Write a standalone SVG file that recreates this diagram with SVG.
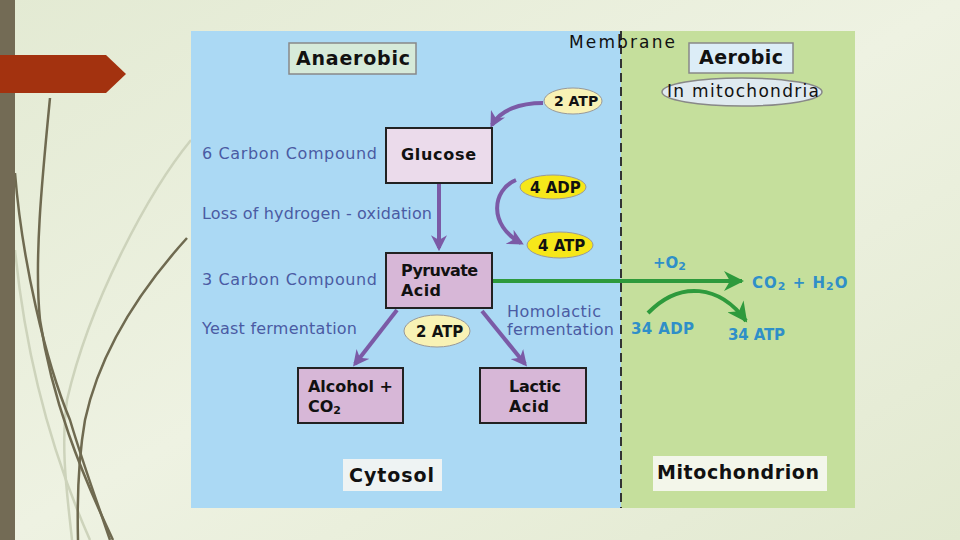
<svg xmlns="http://www.w3.org/2000/svg" width="960" height="540" viewBox="0 0 960 540">
<defs>
<linearGradient id="bg" x1="0" y1="0" x2="1" y2="1">
<stop offset="0" stop-color="#e3ead3"/><stop offset="0.5" stop-color="#eef2e2"/><stop offset="1" stop-color="#e2e9d0"/>
</linearGradient>
<marker id="pa" viewBox="0 0 10 10" refX="8" refY="5" markerWidth="4" markerHeight="4" orient="auto"><path d="M0,0 L10,5 L0,10 L3,5 z" fill="#7b5aa6"/></marker>
<marker id="ga" viewBox="0 0 10 10" refX="9" refY="5" markerWidth="7" markerHeight="5" orient="auto"><path d="M0,0 L10,5 L0,10 L3,5 z" fill="#2e9a3c"/></marker>
<style>
.bl{font-family:"DejaVu Sans",sans-serif;font-weight:bold;fill:#111;}
.lb{font-family:"DejaVu Sans",sans-serif;fill:#4a5ba3;font-size:16px;}
.cy{font-family:"DejaVu Sans",sans-serif;font-weight:bold;fill:#2f8fc8;font-size:15px;}
.box{stroke:#222;stroke-width:2;}
.pu{fill:none;stroke:#7b5aa6;stroke-width:4;marker-end:url(#pa);}
.deco{fill:none;stroke:#6f6a50;stroke-width:2.5;}
.decol{fill:none;stroke:#cdd3bb;stroke-width:2.5;}
</style>
</defs>
<rect width="960" height="540" fill="url(#bg)"/>
<g id="decoration">
<path class="decol" d="M191,140 C150,190 90,300 67,400 C60,450 68,500 72,540"/>
<path class="decol" d="M15,250 C25,350 50,450 90,540"/>
<path class="deco" d="M50,98 C42,180 34,260 40,320 C52,400 80,470 113,540"/>
<path class="deco" d="M15,173 C22,260 45,360 70,420 C85,470 100,510 110,540"/>
<path class="deco" d="M187,238 C140,290 100,350 85,420 C78,460 77,500 78,540"/>
<rect x="0" y="0" width="15" height="540" fill="#736b55"/>
<path d="M0,55 L106,55 L126,74 L106,93 L0,93 z" fill="#a3320f"/>
</g>
<g id="panels">
<rect x="191" y="31" width="430" height="477" fill="#abd9f4"/>
<rect x="621" y="31" width="234" height="477" fill="#c5df9c"/>
<line x1="621" y1="31" x2="621" y2="508" stroke="#333" stroke-width="2" stroke-dasharray="9,5"/>
</g>
<g id="connectors">
<path class="pu" d="M543,103 C520,103 500,110 492,125"/>
<path class="pu" d="M516,180 C492,190 488,225 521,243"/>
<line class="pu" x1="439" y1="184" x2="439" y2="248"/>
<line class="pu" x1="397" y1="310" x2="355" y2="364"/>
<line class="pu" x1="482" y1="311" x2="525" y2="364"/>
<line x1="492" y1="281" x2="742" y2="281" stroke="#2e9a3c" stroke-width="4" marker-end="url(#ga)"/>
<path d="M648,313 C680,280 720,285 746,321" fill="none" stroke="#2e9a3c" stroke-width="4" marker-end="url(#ga)"/>
</g>
<g id="anaerobic"><rect x="289" y="43" width="127" height="31" fill="#d6ead9" stroke="#888" stroke-width="1.5"/><text class="bl" x="296" y="65" font-size="19" textLength="114">Anaerobic</text></g>
<g id="membrane"><text x="569" y="48" font-family="DejaVu Sans,sans-serif" font-size="17" fill="#111" textLength="106">Membrane</text></g>
<g id="aerobic"><rect x="689" y="43" width="104" height="30" fill="#dcedf7" stroke="#888" stroke-width="1.5"/><text class="bl" x="699" y="64" font-size="19" textLength="84">Aerobic</text></g>
<g id="inmito"><ellipse cx="742" cy="92" rx="80" ry="14" fill="#e0eaf0" stroke="#888" stroke-width="1.5"/><text x="667" y="97" font-family="DejaVu Sans,sans-serif" font-size="17" fill="#111" textLength="152">In mitochondria</text></g>
<g id="atp2top"><ellipse cx="573" cy="101" rx="29" ry="13" fill="#f8f2b5" stroke="#999" stroke-width="1"/><text class="bl" x="554" y="106" font-size="14">2 ATP</text></g>
<g id="glucose"><rect class="box" x="386" y="128" width="106" height="55" fill="#ebdbeb"/><text class="bl" x="401" y="160" font-size="16" textLength="75">Glucose</text></g>
<g id="lbl6c"><text class="lb" x="202" y="159" textLength="175">6 Carbon Compound</text></g>
<g id="adp4"><ellipse cx="553" cy="187" rx="33" ry="12" fill="#f6e71a" stroke="#999" stroke-width="1"/><text class="bl" x="530" y="193" font-size="15">4 ADP</text></g>
<g id="lbloss"><text class="lb" x="202" y="219" textLength="230">Loss of hydrogen - oxidation</text></g>
<g id="atp4"><ellipse cx="560" cy="245" rx="33" ry="13" fill="#f6e71a" stroke="#999" stroke-width="1"/><text class="bl" x="538" y="251" font-size="15">4 ATP</text></g>
<g id="pyruvate"><rect class="box" x="386" y="253" width="106" height="55" fill="#d7b7d7"/><text class="bl" x="401" y="276" font-size="16" textLength="77">Pyruvate</text><text class="bl" x="401" y="296" font-size="16" textLength="40">Acid</text></g>
<g id="lbl3c"><text class="lb" x="202" y="285" textLength="175">3 Carbon Compound</text></g>
<g id="lblyeast"><text class="lb" x="202" y="334" textLength="155">Yeast fermentation</text></g>
<g id="atp2mid"><ellipse cx="437" cy="331" rx="33" ry="16" fill="#f8f2b5" stroke="#999" stroke-width="1"/><text class="bl" x="416" y="337" font-size="15">2 ATP</text></g>
<g id="lblhomo"><text class="lb" x="507" y="317" font-size="15" textLength="94">Homolactic</text><text class="lb" x="507" y="335" font-size="15" textLength="107">fermentation</text></g>
<g id="alcohol"><rect class="box" x="298" y="368" width="105" height="55" fill="#d7b7d7"/><text class="bl" x="308" y="392" font-size="16" textLength="85">Alcohol +</text><text class="bl" x="308" y="412" font-size="16">CO<tspan font-size="11" dy="2">2</tspan></text></g>
<g id="lactic"><rect class="box" x="480" y="368" width="106" height="55" fill="#d7b7d7"/><text class="bl" x="509" y="392" font-size="16" textLength="52">Lactic</text><text class="bl" x="509" y="412" font-size="16" textLength="40">Acid</text></g>
<g id="cytosol"><rect x="343" y="459" width="99" height="32" fill="#eef3f3"/><text class="bl" x="349" y="482" font-size="19" textLength="85">Cytosol</text></g>
<g id="mitochondrion"><rect x="653" y="456" width="174" height="35" fill="#f3f6ea"/><text class="bl" x="657" y="479" font-size="19" textLength="162">Mitochondrion</text></g>
<g id="o2"><text class="cy" x="653" y="268">+O<tspan font-size="11" dy="2">2</tspan></text></g>
<g id="co2h2o"><text class="cy" x="752" y="288" letter-spacing="1">CO<tspan font-size="11" dy="2">2</tspan><tspan dy="-2"> + H</tspan><tspan font-size="11" dy="2">2</tspan><tspan dy="-2">O</tspan></text></g>
<g id="adp34"><text class="cy" x="631" y="334" textLength="63">34 ADP</text></g>
<g id="atp34"><text class="cy" x="728" y="340" textLength="57">34 ATP</text></g>
</svg>
